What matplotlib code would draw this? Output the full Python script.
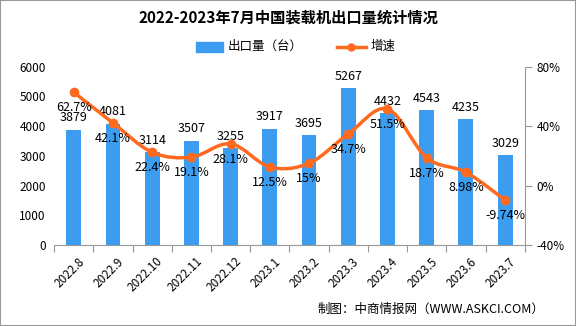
import numpy as np
import matplotlib.pyplot as plt
from matplotlib.path import Path
from matplotlib.patches import PathPatch, Rectangle

plt.rcParams['font.family'] = ['Noto Sans CJK SC', 'DejaVu Sans']

months = ["2022.8", "2022.9", "2022.10", "2022.11", "2022.12", "2023.1",
          "2023.2", "2023.3", "2023.4", "2023.5", "2023.6", "2023.7"]
exports = [3879, 4081, 3114, 3507, 3255, 3917, 3695, 5267, 4432, 4543, 4235, 3029]
growth = [62.7, 42.1, 22.4, 19.1, 28.1, 12.5, 15, 34.7, 51.5, 18.7, 8.98, -9.74]
growth_labels = ["62.7%", "42.1%", "22.4%", "19.1%", "28.1%", "12.5%", "15%",
                 "34.7%", "51.5%", "18.7%", "8.98%", "-9.74%"]

bar_color = "#3C9DF0"
line_color = "#FF6A1F"

fig = plt.figure(figsize=(5.76, 3.26), dpi=100)
fig.patches.append(Rectangle((0, 0), 1, 1, transform=fig.transFigure,
                             fill=False, edgecolor="#999999", linewidth=1.5))
ax = fig.add_axes([0.094, 0.248, 0.817, 0.548])
ax2 = ax.twinx()

x = np.arange(len(months))
ax.bar(x, exports, width=0.38, color=bar_color, zorder=2)
ax.set_ylim(0, 6000)
ax.set_xlim(-0.5, len(months) - 0.5)
ax.set_yticks(range(0, 6001, 1000))
ax.tick_params(axis="y", length=0, labelsize=8.5, pad=6)
ax.set_xticks(np.arange(-0.5, len(months), 1))
ax.set_xticklabels([])
ax.tick_params(axis="x", length=5, color="#999999")
for s in ["left", "top", "right"]:
    ax.spines[s].set_visible(False)
ax.spines["bottom"].set_color("#999999")
for i, m in enumerate(months):
    ax.text(i + 0.1, -330, m, rotation=45, ha="right", va="top",
            fontsize=8.5, rotation_mode="anchor")
for i, v in enumerate(exports):
    ax.text(i, v + 180, str(v), ha="center", va="bottom", fontsize=9)

# smooth growth curve (bezier through the data points)
pts = np.column_stack([x, growth]).astype(float)
verts = [tuple(pts[0])]
codes = [Path.MOVETO]
for i in range(len(pts) - 1):
    p0 = pts[i - 1] if i > 0 else pts[i]
    p1, p2 = pts[i], pts[i + 1]
    p3 = pts[i + 2] if i + 2 < len(pts) else pts[i + 1]
    c1 = p1 + (p2 - p0) / 6
    c2 = p2 - (p3 - p1) / 6
    verts += [tuple(c1), tuple(c2), tuple(p2)]
    codes += [Path.CURVE4] * 3
ax2.add_patch(PathPatch(Path(verts, codes), fill=False, edgecolor=line_color,
                        linewidth=2.5, zorder=3))
ax2.plot(x, growth, "o", color=line_color, markersize=6, zorder=4)
ax2.set_ylim(-40, 80)
ax2.set_yticks([-40, 0, 40, 80])
ax2.set_yticklabels(["-40%", "0%", "40%", "80%"])
ax2.tick_params(axis="y", length=5, color="#999999", labelsize=8.5)
for s in ["left", "top", "bottom"]:
    ax2.spines[s].set_visible(False)
ax2.spines["right"].set_color("#999999")
for i, g in enumerate(growth):
    ax2.text(i, g - 6, growth_labels[i], ha="center", va="top", fontsize=9)

fig.text(0.5, 0.945, "2022-2023年7月中国装载机出口量统计情况", ha="center",
         va="center", fontsize=11, fontweight="bold")
# legend
fig.patches.append(Rectangle((0.34, 0.842), 0.048, 0.03, transform=fig.transFigure,
                             color=bar_color))
fig.text(0.395, 0.857, "出口量（台）", ha="left", va="center", fontsize=9)
fig.lines.append(plt.Line2D([0.585, 0.635], [0.857, 0.857], transform=fig.transFigure,
                            color=line_color, linewidth=2.5, marker="o",
                            markevery=[0], markersize=0))
fig.lines.append(plt.Line2D([0.61], [0.857], transform=fig.transFigure,
                            color=line_color, marker="o", markersize=5))
fig.text(0.643, 0.857, "增速", ha="left", va="center", fontsize=9)

fig.text(0.945, 0.05, "制图：中商情报网（WWW.ASKCI.COM）", ha="right",
         va="center", fontsize=9)

fig.savefig("out.png", dpi=100)
